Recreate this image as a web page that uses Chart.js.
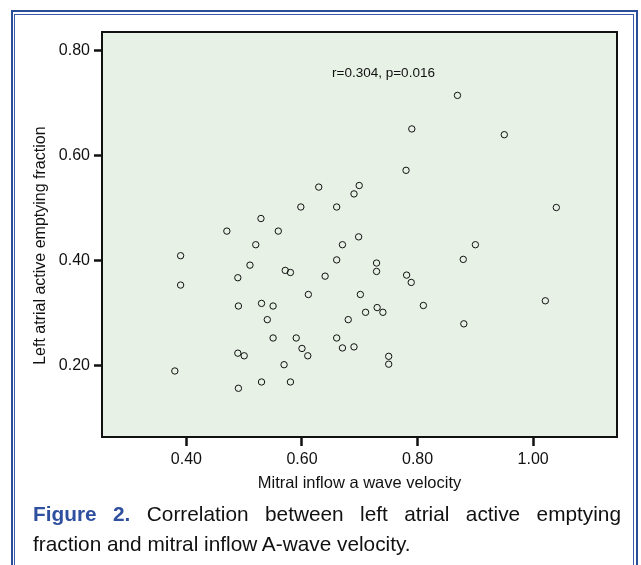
<!DOCTYPE html>
<html>
<head>
<meta charset="utf-8">
<script src="https://cdn.jsdelivr.net/npm/chart.js@4.4.1/dist/chart.umd.min.js"></script>
<style>
    body { margin: 0; background: #fff; width: 641px; height: 565px; overflow: hidden; position: relative; font-family: "Liberation Sans", Arial, sans-serif; }
    .frame-outer { position: absolute; left: 11px; top: 10px; width: 623px; height: 600px; border: 2px solid #2b4b9b; pointer-events: none; }
    .frame-inner { position: absolute; left: 14px; top: 14px; width: 618px; height: 600px; border: 1px solid #3a5aa8; pointer-events: none; }
    .caption { position: absolute; left: 33px; width: 588px; font-size: 20.8px; line-height: 30px; color: #111; }
    .line1 { top: 499px; text-align: justify; text-align-last: justify; }
    .line2 { top: 529px; }
    .caption b { color: #2f4f9f; }
</style>
</head>
<body>
<canvas id="scatterChart" width="641" height="500"></canvas>
<div class="frame-outer"></div>
<div class="frame-inner"></div>
<div class="caption line1"><b>Figure 2.</b> Correlation between left atrial active emptying</div>
<div class="caption line2">fraction and mitral inflow A-wave velocity.</div>

<script>
// Mitral inflow A-wave velocity (x) va left atrial active emptying fraction (y)
const aWaveVelocity = [
    0.629, 0.699, 0.690, 0.598, 0.660, 0.529, 0.470, 0.559, 0.520, 0.670,
    0.698, 0.869, 0.790, 0.950, 0.780, 1.040, 0.900, 0.390, 0.510, 0.660,
    0.489, 0.571, 0.580, 0.640, 0.390, 0.611, 0.701, 0.710, 0.490, 0.530,
    0.550, 0.540, 0.680, 0.550, 0.590, 0.660, 0.600, 0.610, 0.670, 0.690,
    0.489, 0.500, 0.569, 0.380, 0.530, 0.580, 0.490, 0.879, 0.729, 0.729,
    0.781, 0.789, 1.021, 0.810, 0.730, 0.740, 0.880, 0.750, 0.750
];
const emptyingFraction = [
    0.540, 0.543, 0.527, 0.502, 0.502, 0.480, 0.456, 0.456, 0.430, 0.430,
    0.445, 0.715, 0.651, 0.640, 0.572, 0.501, 0.430, 0.409, 0.391, 0.401,
    0.367, 0.381, 0.377, 0.370, 0.353, 0.335, 0.335, 0.301, 0.313, 0.318,
    0.313, 0.287, 0.287, 0.252, 0.252, 0.252, 0.232, 0.218, 0.233, 0.235,
    0.223, 0.218, 0.201, 0.189, 0.168, 0.168, 0.156, 0.402, 0.395, 0.379,
    0.372, 0.358, 0.323, 0.314, 0.310, 0.301, 0.279, 0.217, 0.202
];

const xTicks = [0.40, 0.60, 0.80, 1.00];
const yTicks = [0.20, 0.40, 0.60, 0.80];
const xRange = [0.254, 1.145];
const yRange = [0.063, 0.836];

const statsText = 'r=0.304, p=0.016';
const statsPos = [0.741, 0.758];

const points = aWaveVelocity.map((v, i) => ({ x: v, y: emptyingFraction[i] }));

// nen xanh nhat, khung den va dong chu r, p
const plotFrame = {
    id: 'plotFrame',
    beforeDatasetsDraw(chart) {
        const { ctx, chartArea: a } = chart;
        ctx.save();
        ctx.fillStyle = '#e7f1e5';
        ctx.fillRect(a.left, a.top, a.width, a.height);
        ctx.restore();
    },
    afterDraw(chart) {
        const { ctx, chartArea: a, scales } = chart;
        ctx.save();
        ctx.strokeStyle = '#111';
        ctx.lineWidth = 2;
        ctx.strokeRect(a.left, a.top, a.width, a.height);
        ctx.fillStyle = '#111';
        ctx.font = '13.5px "Liberation Sans", Arial, sans-serif';
        ctx.textAlign = 'center';
        ctx.textBaseline = 'middle';
        ctx.fillText(statsText, scales.x.getPixelForValue(statsPos[0]), scales.y.getPixelForValue(statsPos[1]));
        ctx.restore();
    }
};

const ctx = document.getElementById('scatterChart').getContext('2d');
new Chart(ctx, {
    type: 'scatter',
    data: {
        datasets: [{
            data: points,
            pointStyle: 'circle',
            pointRadius: 3.2,
            pointHoverRadius: 3.2,
            borderWidth: 1,
            borderColor: '#111',
            backgroundColor: 'rgba(0,0,0,0)'
        }]
    },
    options: {
        responsive: false,
        animation: false,
        layout: { padding: { top: 32, right: 24, bottom: 0, left: 0 } },
        plugins: {
            legend: { display: false },
            tooltip: { enabled: false }
        },
        scales: {
            x: {
                type: 'linear',
                min: xRange[0],
                max: xRange[1],
                afterBuildTicks: s => { s.ticks = xTicks.map(v => ({ value: v })); },
                afterFit: s => { s.height = 63; },
                border: { display: false },
                grid: { drawOnChartArea: false, drawTicks: true, tickLength: 9, tickWidth: 2.5, tickColor: '#111' },
                ticks: {
                    padding: 4,
                    color: '#111',
                    font: { size: 16, family: '"Liberation Sans", Arial, sans-serif' },
                    callback: v => v.toFixed(2)
                },
                title: {
                    display: true,
                    text: 'Mitral inflow a wave velocity',
                    color: '#111',
                    font: { size: 16.5, family: '"Liberation Sans", Arial, sans-serif' },
                    padding: { top: 0, bottom: 7 }
                }
            },
            y: {
                type: 'linear',
                min: yRange[0],
                max: yRange[1],
                afterBuildTicks: s => { s.ticks = yTicks.map(v => ({ value: v })); },
                afterFit: s => { s.width = 102; },
                border: { display: false },
                grid: { drawOnChartArea: false, drawTicks: true, tickLength: 8, tickWidth: 2.5, tickColor: '#111' },
                ticks: {
                    padding: 4,
                    color: '#111',
                    font: { size: 16, family: '"Liberation Sans", Arial, sans-serif' },
                    callback: v => v.toFixed(2)
                },
                title: {
                    display: true,
                    // khoang trang cuoi de day chu xuong mot chut nhu ban goc
                    text: 'Left atrial active emptying fraction\u00a0\u00a0\u00a0\u00a0\u00a0',
                    color: '#111',
                    font: { size: 16, family: '"Liberation Sans", Arial, sans-serif' },
                    padding: { top: 31, bottom: 0 }
                }
            }
        }
    },
    plugins: [plotFrame]
});
</script>
</body>
</html>
